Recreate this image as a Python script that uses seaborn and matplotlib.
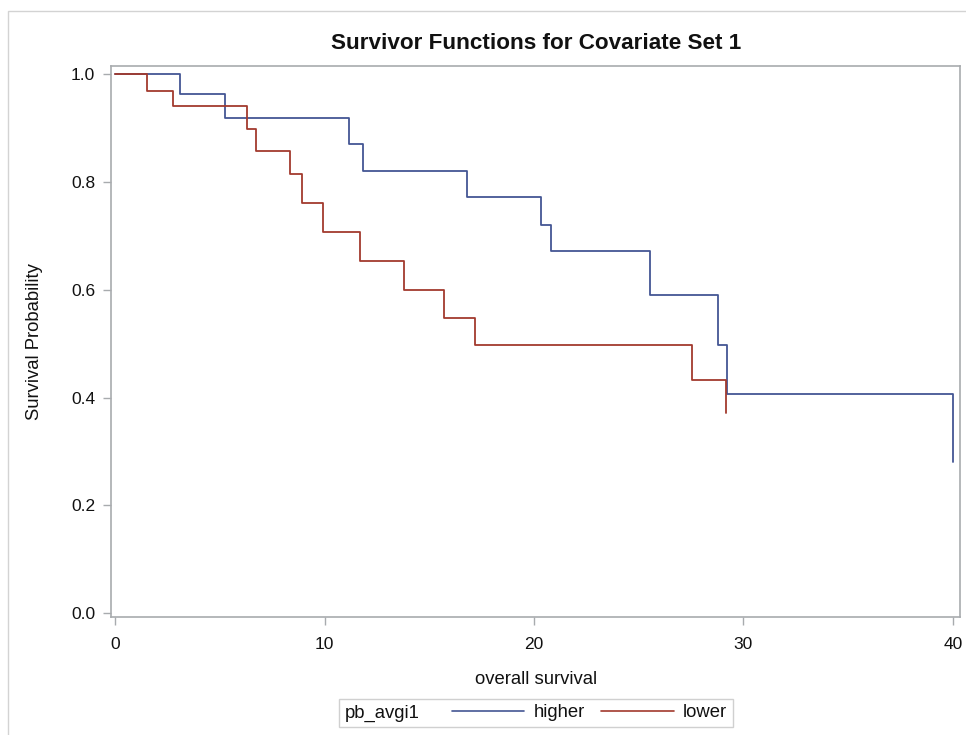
import pandas as pd
import numpy as np
import matplotlib
matplotlib.use("Agg")
import matplotlib.pyplot as plt
import seaborn as sns
from matplotlib.lines import Line2D
from matplotlib.patches import Rectangle
from matplotlib.offsetbox import HPacker

# Kaplan-Meier step values
higher_time = [0, 3.11, 5.23, 11.19, 11.84, 16.79, 20.35, 20.79, 25.53, 28.79, 29.22, 40.0]
higher_surv = [1.0, 0.9635, 0.918, 0.870, 0.8196, 0.7715, 0.7207, 0.6725, 0.591, 0.497, 0.4069, 0.281]

lower_time = [0, 1.51, 2.74, 6.31, 6.74, 8.35, 8.92, 9.94, 11.70, 13.81, 15.71, 17.16, 27.55, 29.16]
lower_surv = [1.0, 0.969, 0.9407, 0.898, 0.8567, 0.814, 0.760, 0.7066, 0.6528, 0.599, 0.548, 0.497, 0.4328, 0.371]

groups = ['higher', 'lower']
x_ticks = [0, 10, 20, 30, 40]
y_ticks = [0.0, 0.2, 0.4, 0.6, 0.8, 1.0]

df = pd.concat([
    pd.DataFrame({'time': higher_time, 'surv': higher_surv, 'pb_avgi1': 'higher'}),
    pd.DataFrame({'time': lower_time, 'surv': lower_surv, 'pb_avgi1': 'lower'}),
])

palette = {'higher': '#445694', 'lower': '#A23A2E'}
frame_col = '#A8ABAE'
txt_col = '#111111'

sns.set_theme(style='white')
plt.rcParams['font.family'] = ['Liberation Sans', 'DejaVu Sans']

fig = plt.figure(figsize=(9.66, 7.35), dpi=100)
ax = fig.add_axes([0.1149, 0.1601, 0.8792, 0.7501])

sns.lineplot(data=df, x='time', y='surv', hue='pb_avgi1', hue_order=groups,
             palette=palette, estimator=None, drawstyle='steps-post',
             linewidth=1.3, legend=False, ax=ax)

ax.set_xlim(-0.2, 40.36)
ax.set_ylim(-0.0074, 1.0148)
ax.set_xticks(x_ticks)
ax.set_yticks(y_ticks)
ax.set_yticklabels([f'{v:.1f}' for v in y_ticks])

for s in ax.spines.values():
    s.set_color(frame_col)
    s.set_linewidth(1.2)
ax.tick_params(axis='both', length=6, width=1, color=frame_col,
               labelsize=12.5, labelcolor=txt_col, left=True, bottom=True)
ax.tick_params(axis='x', pad=8)
ax.tick_params(axis='y', pad=5.5)

ax.set_title('Survivor Functions for Covariate Set 1', fontsize=16.2, weight='bold',
             pad=12.5, color=txt_col)
ax.set_xlabel('overall survival', fontsize=13.3, labelpad=14, color=txt_col)
ax.set_ylabel('Survival Probability', fontsize=13.3, labelpad=20, color=txt_col)

# legend: group name inline, then the two lines
handles = [Line2D([], [], color=palette[g], lw=1.2) for g in groups]
leg = fig.legend(handles, groups, title='pb_avgi1', ncol=2, loc='center',
                 bbox_to_anchor=(0.5549, 0.030), fontsize=13.3, title_fontsize=13.3,
                 frameon=True, fancybox=False, framealpha=1, edgecolor='#D0D0D0',
                 handlelength=3.95, handletextpad=0.5, columnspacing=0.87,
                 borderpad=0.2, borderaxespad=0, labelcolor=txt_col)
leg.get_title().set_color(txt_col)
leg.get_frame().set_linewidth(1)
old = leg._legend_box
new = HPacker(pad=old.pad + 1.5, sep=23, align='center', children=old.get_children())
new.set_figure(fig)
new.axes = leg.axes
new.set_offset(leg._findoffset)
leg._legend_box = new

# outer light border
fig.patches.append(Rectangle((7.5 / 966, -0.05), 1.1, 1.05 - 11 / 735,
                             transform=fig.transFigure, fill=False,
                             edgecolor='#D3D3D3', linewidth=1))

fig.savefig('out.png', dpi=100)
